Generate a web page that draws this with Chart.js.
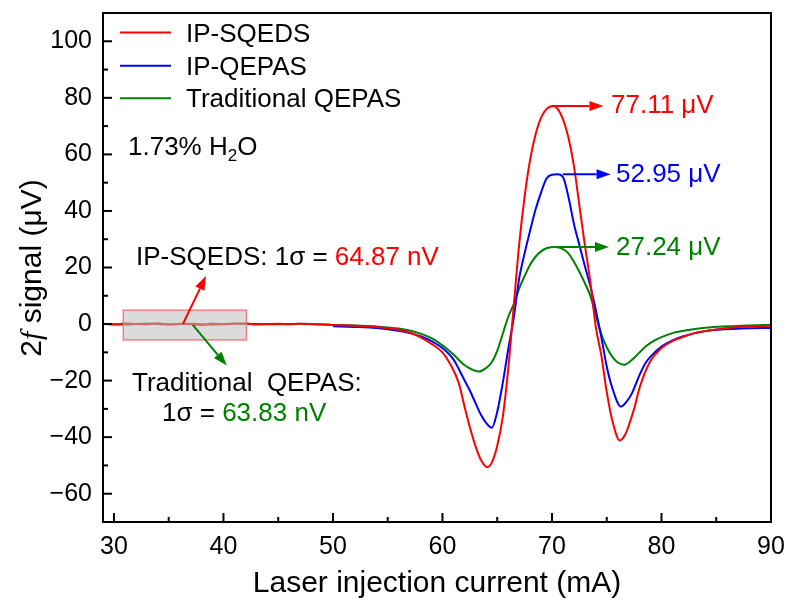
<!DOCTYPE html>
<html>
<head>
<meta charset="utf-8">
<script src="https://cdn.jsdelivr.net/npm/chart.js@4.4.1/dist/chart.umd.min.js"></script>
<style>
  html, body { margin: 0; padding: 0; background: #fff; }
</style>
</head>
<body>
<canvas id="myChart" width="786" height="606"></canvas>
<script>
// tick labels
const xTicks = [30, 40, 50, 60, 70, 80, 90];
const xMinor = [35, 45, 55, 65, 75, 85];
const yTicks = [-60, -40, -20, 0, 20, 40, 60, 80, 100];
const yMinor = [-50, -30, -10, 10, 30, 50, 70, 90];

// IP-SQEDS (red)
const sqedsX = [29, 30, 31, 32, 33, 34, 35, 36, 37, 38, 39, 40, 41, 42, 43, 44, 45, 46, 47, 48,
  50, 52, 54, 56, 57, 58, 59, 60, 60.7, 61.5, 62, 62.5, 63, 63.5, 64.1, 64.5, 65, 65.5, 66, 66.5,
  67, 67.5, 68, 68.5, 69, 69.5, 70.05, 70.5, 71, 71.5, 72, 72.5, 73, 73.5, 74, 74.5, 75, 75.5,
  76.2, 76.7, 77, 77.5, 78, 79, 80, 81, 82, 83, 84, 86, 88, 90];
const sqedsY = [0.1, -0.2, 0.2, 0, -0.1, 0.3, -0.2, 0.1, 0, -0.3, 0.2, -0.1, 0.1, 0.2, -0.2, 0, 0.1, -0.1, 0.1, 0,
  -0.3, -0.6, -1.0, -2.0, -3.0, -4.7, -7.0, -10.0, -14.1, -21, -29, -36.5, -43, -48, -50.6, -49, -43, -33, -16, 6,
  28, 45, 58, 67, 73, 76, 77.11, 76.2, 72.5, 66, 56, 42, 28, 15, -1, -11, -24, -34,
  -41.2, -39, -36, -30, -22.5, -13, -8.5, -6, -4.5, -3.2, -2.5, -1.4, -0.9, -0.6];

// IP-QEPAS (blue)
const ipqX = [50, 52, 54, 56, 57, 58, 59, 60, 61, 61.5, 62, 62.5, 63, 63.5, 64, 64.5, 65, 65.5, 66, 66.5,
  67, 67.5, 68, 68.5, 69, 69.5, 70, 70.5, 71, 71.5, 72, 72.5, 73, 73.5, 74, 74.5, 75, 75.5,
  76.3, 76.8, 77.3, 78, 78.5, 79, 80, 81, 82, 84, 86, 88, 90];
const ipqY = [-0.8, -1.0, -1.4, -2.4, -3.2, -4.3, -6.0, -8.5, -12.5, -16, -19.8, -23.5, -27.8, -32, -35, -36.7, -31, -21, -9, 2,
  16, 25, 33, 40.5, 46.5, 51.5, 52.8, 52.95, 52, 45, 35.5, 28, 20.5, 13.5, 5, -4.5, -15, -22.5,
  -29.2, -27.5, -24.5, -18, -14, -11.5, -8, -5.8, -4.3, -2.5, -1.8, -1.5, -1.4];

// Traditional QEPAS (green)
const tradX = [29, 31, 33, 35, 37, 39, 41, 43, 45, 47, 49, 50, 52, 54, 56, 57, 58, 59, 60, 61, 62,
  62.6, 63.3, 64, 64.5, 65, 65.5, 66, 66.5, 67, 67.5, 68, 68.5, 69, 69.5, 70.3, 71, 71.5, 72, 72.5,
  73, 73.5, 74, 74.5, 75, 75.5, 76, 76.6, 77.2, 77.7, 78.5, 79.25, 80, 81, 82, 84, 86, 88, 90];
const tradY = [0.1, -0.2, 0.2, -0.1, 0.1, -0.2, 0.2, 0, -0.1, 0.1, -0.2, -0.3, -0.5, -0.9, -1.6, -2.3, -3.4, -5.0, -7.5, -10.8, -14.5,
  -15.9, -16.8, -15.5, -13.5, -9.5, -3.5, 2.5, 7, 12.5, 17, 21, 23.8, 25.7, 26.8, 27.24, 26.5, 25, 22, 18.5,
  14.5, 10, 3, -3.5, -8.2, -11.5, -13.6, -14.4, -13, -11.2, -8.1, -6.0, -4.6, -3.2, -2.4, -1.3, -0.8, -0.5, -0.3];

const SANS = '"Liberation Sans", Arial, sans-serif';
const F26 = '26px ' + SANS;
const RED = '#ff0000', BLUE = '#0000ff', GREEN = '#008000';

const pts = (xs, ys) => xs.map((x, i) => ({ x: x, y: ys[i] }));

function arrow(ctx, x1, y1, x2, y2, color) {
  const a = Math.atan2(y2 - y1, x2 - x1), L = 14, W = 5;
  const bx = x2 - L * Math.cos(a), by = y2 - L * Math.sin(a);
  ctx.strokeStyle = color;
  ctx.fillStyle = color;
  ctx.lineWidth = 2;
  ctx.beginPath();
  ctx.moveTo(x1, y1);
  ctx.lineTo(bx, by);
  ctx.stroke();
  ctx.beginPath();
  ctx.moveTo(x2, y2);
  ctx.lineTo(bx + W * Math.sin(a), by - W * Math.cos(a));
  ctx.lineTo(bx - W * Math.sin(a), by + W * Math.cos(a));
  ctx.closePath();
  ctx.fill();
}

// draw text pieces one after the other on a baseline
function rich(ctx, parts, x, y) {
  let cx = x;
  parts.forEach(([t, c, f, dy]) => {
    ctx.font = f || F26;
    ctx.fillStyle = c;
    ctx.fillText(t, cx, y + (dy || 0));
    cx += ctx.measureText(t).width;
  });
}

const decor = {
  id: 'decor',
  afterDatasetsDraw(chart) {
    const { ctx, scales: { x, y } } = chart;
    const px = v => x.getPixelForValue(v), py = v => y.getPixelForValue(v);
    ctx.save();
    ctx.textAlign = 'left';
    ctx.textBaseline = 'alphabetic';

    // shaded noise region
    const bx = px(30.85), bw = px(42.1) - bx, by = py(4.9), bh = py(-5.6) - by;
    ctx.fillStyle = 'rgba(190,190,190,0.55)';
    ctx.fillRect(bx, by, bw, bh);
    ctx.strokeStyle = 'rgba(240,110,110,0.85)';
    ctx.lineWidth = 1.5;
    ctx.strokeRect(bx, by, bw, bh);

    arrow(ctx, px(36.3), py(0), px(38.4), py(17), RED);
    arrow(ctx, px(37.2), py(-0.3), px(40.3), py(-14.7), GREEN);

    // peak arrows
    arrow(ctx, px(70.05), py(77.11), px(74.7), py(77.11), RED);
    arrow(ctx, px(71.0), py(52.95), px(75.35), py(52.95), BLUE);
    arrow(ctx, px(70.3), py(27.24), px(75.2), py(27.24), GREEN);

    rich(ctx, [['77.11 \u03bcV', RED]], 611, 113);
    rich(ctx, [['52.95 \u03bcV', BLUE]], 616, 182);
    rich(ctx, [['27.24 \u03bcV', GREEN]], 616, 255);

    rich(ctx, [['IP-SQEDS: 1\u03c3 = ', '#000'], ['64.87 nV', RED]], 136, 265);
    rich(ctx, [['Traditional  QEPAS:', '#000']], 132, 391);
    rich(ctx, [['1\u03c3 = ', '#000'], ['63.83 nV', GREEN]], 162, 421);

    rich(ctx, [['1.73% H', '#000'], ['2', '#000', '17px ' + SANS, 6], ['O', '#000']], 128, 155);

    // legend
    const leg = [['IP-SQEDS', RED, 32.5, 42], ['IP-QEPAS', BLUE, 65.7, 75], ['Traditional QEPAS', GREEN, 98.3, 107]];
    leg.forEach(([t, c, ly, tb]) => {
      ctx.strokeStyle = c;
      ctx.lineWidth = 2;
      ctx.beginPath();
      ctx.moveTo(120, ly);
      ctx.lineTo(171, ly);
      ctx.stroke();
      rich(ctx, [[t, '#000']], 186, tb);
    });
    ctx.restore();
  },
  afterDraw(chart) {
    const { ctx, chartArea: a, scales: { x, y } } = chart;
    ctx.save();
    ctx.strokeStyle = '#000';
    ctx.lineWidth = 2;
    ctx.strokeRect(a.left, a.top, a.right - a.left, a.bottom - a.top);
    const seg = (x1, y1, x2, y2) => { ctx.beginPath(); ctx.moveTo(x1, y1); ctx.lineTo(x2, y2); ctx.stroke(); };
    xTicks.forEach(v => { const X = x.getPixelForValue(v); seg(X, a.bottom, X, a.bottom - 9); });
    xMinor.forEach(v => { const X = x.getPixelForValue(v); seg(X, a.bottom, X, a.bottom - 5); });
    yTicks.forEach(v => { const Y = y.getPixelForValue(v); seg(a.left, Y, a.left + 9, Y); });
    yMinor.forEach(v => { const Y = y.getPixelForValue(v); seg(a.left, Y, a.left + 5, Y); });

    // axis titles
    ctx.fillStyle = '#000';
    ctx.textBaseline = 'alphabetic';
    ctx.font = '30px ' + SANS;
    ctx.textAlign = 'center';
    ctx.fillText('Laser injection current (mA)', 437, 592);

    ctx.textAlign = 'left';
    const parts = [['2', '30px ' + SANS], ['f', 'italic 30px "Liberation Serif", serif'], [' signal (\u03bcV)', '30px ' + SANS]];
    let total = 0;
    parts.forEach(([t, f]) => { ctx.font = f; total += ctx.measureText(t).width; });
    ctx.translate(41, 268);
    ctx.rotate(-Math.PI / 2);
    let u = -total / 2;
    parts.forEach(([t, f]) => { ctx.font = f; ctx.fillText(t, u, 0); u += ctx.measureText(t).width; });
    ctx.restore();
  }
};

const tickFont = { family: SANS, size: 25 };

new Chart(document.getElementById('myChart'), {
  type: 'line',
  data: {
    datasets: [
      { label: 'IP-SQEDS', data: pts(sqedsX, sqedsY), borderColor: RED },
      { label: 'IP-QEPAS', data: pts(ipqX, ipqY), borderColor: BLUE },
      { label: 'Traditional QEPAS', data: pts(tradX, tradY), borderColor: GREEN },
    ],
  },
  options: {
    responsive: false,
    animation: false,
    layout: { padding: { top: 13, right: 15, left: 0, bottom: 0 } },
    elements: {
      point: { radius: 0 },
      line: { borderWidth: 2, cubicInterpolationMode: 'monotone', fill: false },
    },
    plugins: { legend: { display: false }, tooltip: { enabled: false } },
    scales: {
      x: {
        type: 'linear',
        min: 29,
        max: 90,
        grid: { display: false, drawTicks: false },
        border: { display: true, color: '#000', width: 2 },
        ticks: { font: tickFont, color: '#000', padding: 10, maxRotation: 0 },
        afterBuildTicks: (s) => { s.ticks = xTicks.map((v) => ({ value: v })); },
        afterFit: (s) => { s.height = 84; s.paddingLeft = 0; s.paddingRight = 0; },
      },
      y: {
        type: 'linear',
        min: -70,
        max: 110,
        grid: { display: false, drawTicks: false },
        border: { display: true, color: '#000', width: 2 },
        ticks: {
          font: tickFont,
          color: '#000',
          padding: 11,
          callback: (v) => String(v).replace('-', '\u2212'),
        },
        afterBuildTicks: (s) => { s.ticks = yTicks.map((v) => ({ value: v })); },
        afterFit: (s) => { s.width = 103; s.paddingTop = 0; s.paddingBottom = 0; },
      },
    },
  },
  plugins: [decor],
});
</script>
</body>
</html>
